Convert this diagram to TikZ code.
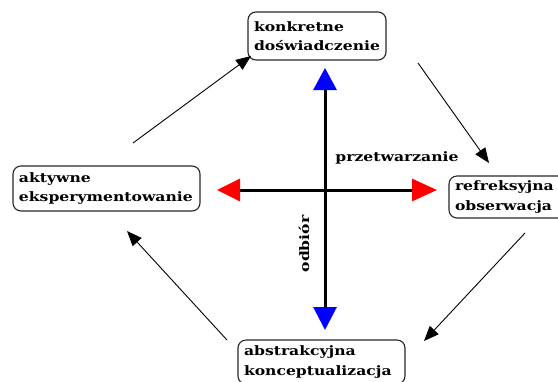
\documentclass[tikz,border=0pt]{standalone}
\usepackage{fontspec}
\setmainfont{DejaVu Serif}[FakeStretch=1.2]
\usetikzlibrary{arrows.meta}
\tikzset{
  stage/.style={draw=black!85, line width=1.1bp, rounded corners=8bp, inner sep=0pt,
    font=\bfseries\fontsize{13bp}{19.5bp}\selectfont, align=left},
  axis/.style={line width=3bp, black},
  cycle/.style={line width=0.9bp, black, -{Triangle[length=15bp,width=12bp]}},
  lbl/.style={font=\bfseries\fontsize{13bp}{15bp}\selectfont, inner sep=0pt}
}
\begin{document}
\begin{tikzpicture}[x=1bp,y=-1bp]
\useasboundingbox (0,0) rectangle (558,381);
\clip (0,0) rectangle (558,381);
% stage boxes
\node[stage, minimum width=138bp, minimum height=48bp, text width=126bp] (top) at (317,36) {konkretne\\doświadczenie};
\node[stage, minimum width=187bp, minimum height=45bp, text width=175bp] (left) at (106.5,188.5) {aktywne\\eksperymentowanie};
\node[stage, minimum width=125bp, minimum height=42bp, text width=113bp] (right) at (511.5,197) {refreksyjna\\obserwacja};
\node[stage, minimum width=167bp, minimum height=44bp, text width=155bp] (bottom) at (321.5,362) {abstrakcyjna\\konceptualizacja};
% cross
\coordinate (vt) at (325,68);
\coordinate (vb) at (325,330);
\coordinate (hl) at (217,190);
\coordinate (hr) at (437,190);
\draw[axis, {Triangle[color=blue,length=22bp,width=23bp]}-{Triangle[color=blue,length=23bp,width=23bp]}] (vt) -- (vb);
\draw[axis, {Triangle[color=red,length=23bp,width=22bp]}-{Triangle[color=red,length=25bp,width=22bp]}] (hl) -- (hr);
\node[lbl] (proc) at (397,158) {przetwarzanie};
\node[lbl, rotate=90] (perc) at (304,244) {odbiór};
% cycle arrows
\coordinate (a1) at (133,143);
\coordinate (a2) at (251,56);
\coordinate (b1) at (418,63);
\coordinate (b2) at (489,163);
\coordinate (c1) at (525,233);
\coordinate (c2) at (424,341);
\coordinate (d1) at (227,340);
\coordinate (d2) at (127,231);
\draw[cycle] (a1) -- (a2);
\draw[cycle] (b1) -- (b2);
\draw[cycle] (c1) -- (c2);
\draw[cycle] (d1) -- (d2);
\end{tikzpicture}
\end{document}
